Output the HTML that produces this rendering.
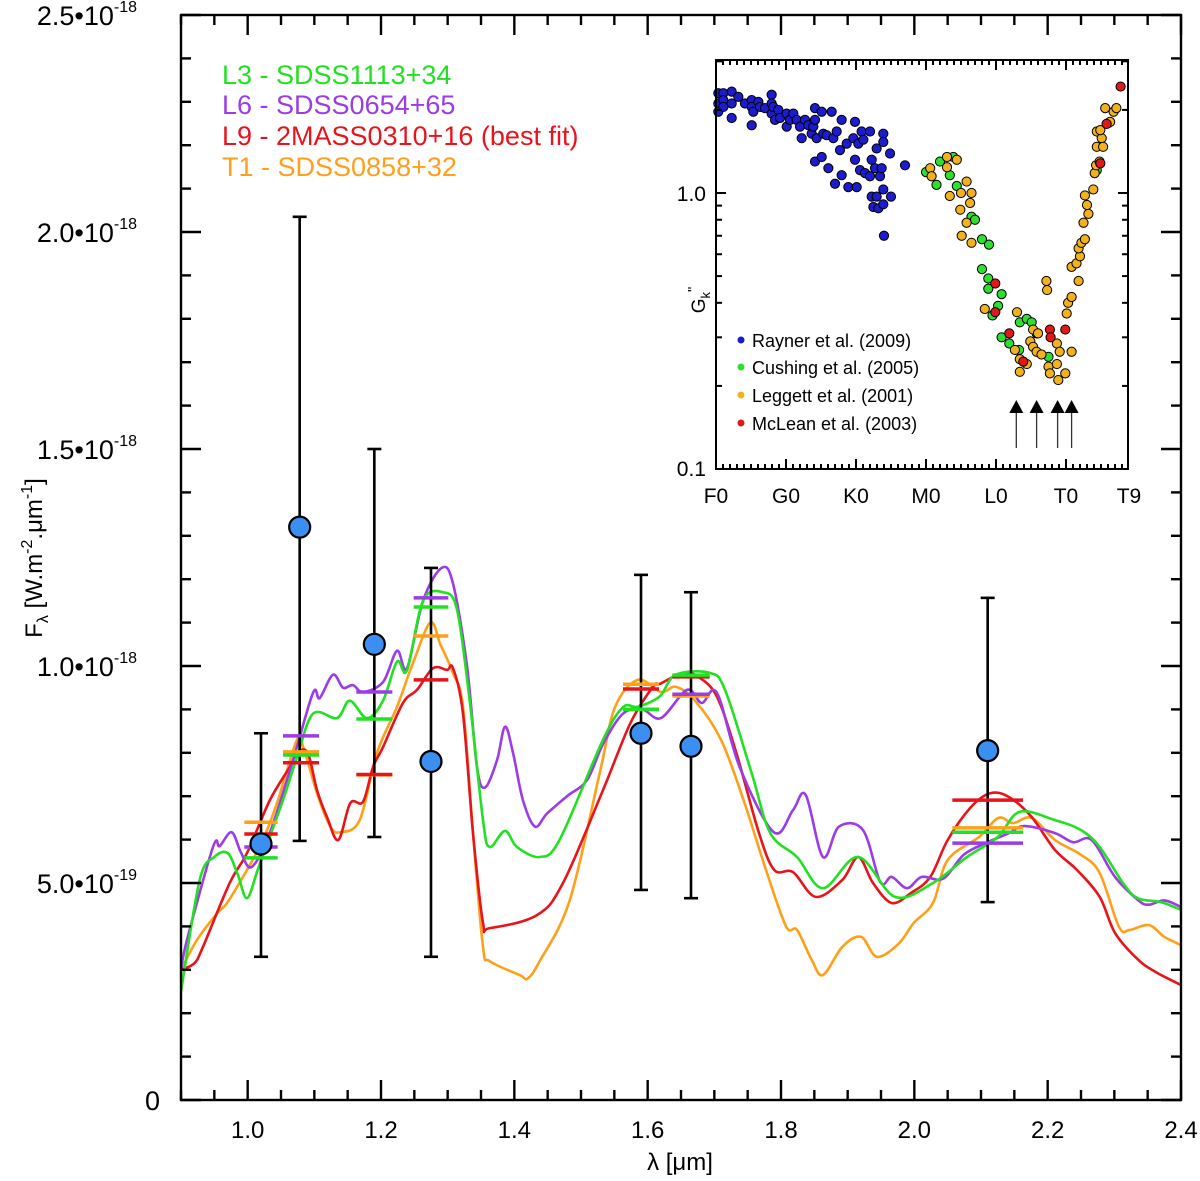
<!DOCTYPE html>
<html><head><meta charset="utf-8"><style>
html,body{margin:0;padding:0;background:#fff;}
svg{display:block;font-family:"Liberation Sans",Arial,sans-serif;}
</style></head><body>
<svg id="chart" width="1200" height="1181" viewBox="0 0 1200 1181" xmlns="http://www.w3.org/2000/svg">
<rect x="0" y="0" width="1200" height="1181" fill="#fff"/>
<g id="main"></g>
<g id="inset"></g>
</svg>
<script>
// ---- main chart data (flux in 1e-19 W m-2 um-1) ----
const xTicks = [1.0,1.2,1.4,1.6,1.8,2.0,2.2,2.4];
const xTickLabels = ["1.0","1.2","1.4","1.6","1.8","2.0","2.2","2.4"];
const yMajor = [0,5,10,15,20,25];
const yMajorLabels = ["0","5.0","1.0","1.5","2.0","2.5"];
const yExp = [null,"-19","-18","-18","-18","-18"];

const greenCurve = [[0.9,2.5],[0.928,5.07],[0.95,5.6],[0.97,5.69],[0.985,5.2],[0.999,4.65],[1.015,5.3],[1.033,6.06],[1.055,7.0],[1.074,7.9],[1.098,8.9],[1.134,8.8],[1.153,9.2],[1.179,8.8],[1.203,9.2],[1.224,10.1],[1.239,9.9],[1.263,11.5],[1.293,11.7],[1.314,11.3],[1.333,9.2],[1.353,6.45],[1.363,5.83],[1.386,6.2],[1.404,5.83],[1.438,5.6],[1.468,6.0],[1.533,8.3],[1.563,9.05],[1.585,9.06],[1.618,9.3],[1.642,9.8],[1.693,9.84],[1.716,9.45],[1.756,7.53],[1.784,6.15],[1.824,5.6],[1.863,4.88],[1.916,5.6],[1.971,4.68],[2.028,5.0],[2.079,5.6],[2.125,6.06],[2.158,6.64],[2.211,6.45],[2.25,6.22],[2.278,5.83],[2.313,5.0],[2.335,4.65],[2.37,4.56],[2.4,4.38]];
const purpleCurve = [[0.9,3.0],[0.909,3.69],[0.948,5.83],[0.958,5.85],[0.976,6.17],[0.99,5.7],[1.006,5.37],[1.033,6.15],[1.068,7.83],[1.098,9.38],[1.108,9.26],[1.128,9.8],[1.143,9.5],[1.158,9.56],[1.173,9.4],[1.203,9.63],[1.224,10.35],[1.239,9.95],[1.263,11.5],[1.291,12.26],[1.308,11.9],[1.329,10.0],[1.344,7.67],[1.356,7.2],[1.374,7.83],[1.386,8.6],[1.398,8.0],[1.413,6.9],[1.431,6.3],[1.449,6.6],[1.479,7.0],[1.509,7.37],[1.533,8.2],[1.563,8.9],[1.592,9.0],[1.62,8.8],[1.659,9.45],[1.681,9.15],[1.704,9.38],[1.738,7.67],[1.789,6.17],[1.818,6.68],[1.837,7.03],[1.863,5.6],[1.887,6.3],[1.923,6.22],[1.949,5.02],[1.966,5.14],[1.989,4.88],[2.011,5.14],[2.043,5.1],[2.074,5.65],[2.107,5.92],[2.142,6.15],[2.165,6.31],[2.211,6.15],[2.238,5.94],[2.266,5.99],[2.301,5.14],[2.336,4.6],[2.352,4.5],[2.375,4.6],[2.4,4.45]];
const redCurve = [[0.9,3.0],[0.92,3.15],[0.933,3.53],[0.973,5.0],[0.999,5.69],[1.033,6.9],[1.063,7.67],[1.074,8.0],[1.09,8.0],[1.104,7.14],[1.119,6.52],[1.136,5.99],[1.154,6.84],[1.173,6.87],[1.188,7.67],[1.203,8.13],[1.233,9.15],[1.254,9.45],[1.278,9.95],[1.299,9.91],[1.308,9.95],[1.323,8.9],[1.338,6.15],[1.353,4.08],[1.363,3.96],[1.434,4.26],[1.473,5.0],[1.533,7.14],[1.574,8.68],[1.608,9.52],[1.62,9.6],[1.653,9.84],[1.676,9.75],[1.704,9.29],[1.733,8.0],[1.767,6.15],[1.79,5.3],[1.818,5.25],[1.852,4.68],[1.892,5.07],[1.916,5.6],[1.938,5.0],[1.966,4.54],[1.995,4.77],[2.024,5.14],[2.05,5.99],[2.085,6.75],[2.114,7.07],[2.142,6.98],[2.176,6.52],[2.211,5.76],[2.244,5.3],[2.278,4.68],[2.301,3.85],[2.336,3.23],[2.364,2.93],[2.4,2.65]];
const orangeCurve = [[0.9,3.0],[0.924,3.69],[0.954,4.3],[0.969,4.54],[0.999,5.3],[1.023,6.0],[1.044,6.84],[1.074,8.3],[1.084,8.1],[1.104,7.07],[1.124,6.3],[1.139,6.17],[1.168,6.45],[1.194,8.0],[1.224,9.06],[1.248,10.07],[1.274,11.0],[1.289,10.5],[1.308,9.84],[1.323,9.06],[1.338,6.15],[1.353,3.53],[1.363,3.2],[1.408,2.88],[1.42,2.8],[1.438,3.2],[1.483,4.6],[1.528,7.53],[1.551,9.05],[1.585,9.68],[1.62,9.4],[1.642,9.52],[1.671,9.2],[1.71,8.3],[1.744,6.9],[1.779,5.23],[1.808,3.99],[1.824,3.92],[1.846,3.23],[1.863,2.88],[1.892,3.53],[1.92,3.76],[1.944,3.3],[1.977,3.61],[1.999,4.08],[2.028,4.54],[2.05,5.53],[2.097,6.06],[2.126,6.5],[2.148,6.38],[2.176,6.5],[2.211,5.99],[2.25,5.65],[2.278,5.23],[2.307,3.99],[2.323,3.92],[2.352,4.03],[2.375,3.76],[2.4,3.57]];

const obsLam = [1.02,1.078,1.19,1.275,1.59,1.665,2.11];
const obsFlux = [5.9,13.2,10.5,7.8,8.45,8.15,8.05];
const obsHigh = [8.45,20.35,15.0,12.26,12.1,11.7,11.57];
const obsLow = [3.3,5.97,6.06,3.3,4.84,4.65,4.56];

const bandLam = [1.02,1.08,1.19,1.275,1.59,1.665,2.11];
const bandHalf = [0.025,0.027,0.027,0.026,0.027,0.028,0.053];
const synGreen = [5.58,7.95,8.78,11.36,9.0,9.79,6.17];
const synPurple = [5.83,8.39,9.4,11.57,9.0,9.35,5.92];
const synRed = [6.13,7.77,7.5,9.68,9.47,9.75,6.91];
const synOrange = [6.4,8.02,7.49,10.69,9.58,9.31,6.27];

// ---- inset data: [spectral type index (F0=0 ... T9=59), G_k''] ----
const insetTickIdx = [0,10,20,30,40,50,59];
const insetTickLabels = ["F0","G0","K0","M0","L0","T0","T9"];
const raynerPts = [[0.33,2.30],[0.33,2.11],[0.33,1.97],[1.05,2.30],[1.05,2.17],[1.05,2.05],[2.24,2.33],[2.24,2.11],[2.24,1.87],[3.19,2.23],[4.14,2.11],[5.1,2.17],[5.1,2.05],[5.1,1.76],[5.33,1.97],[6.05,2.14],[6.29,2.05],[7.0,2.03],[7.95,2.27],[7.95,2.11],[7.95,1.94],[8.19,2.05],[8.43,1.84],[8.9,2.0],[9.14,1.87],[10.1,1.94],[10.1,1.74],[10.57,1.84],[11.05,1.94],[11.52,1.84],[12.0,1.74],[12.24,1.58],[12.71,1.84],[13.19,1.76],[13.67,1.64],[13.9,1.74],[14.14,2.03],[14.14,1.84],[14.14,1.30],[14.38,1.58],[15.1,1.97],[15.1,1.35],[15.33,1.64],[15.8,1.62],[16.05,1.23],[16.52,1.97],[16.76,1.58],[17.0,1.08],[17.24,1.67],[17.71,1.43],[17.95,1.84],[17.95,1.16],[18.67,1.51],[18.9,1.05],[19.62,1.58],[19.86,1.81],[19.86,1.32],[20.1,1.05],[20.33,1.51],[20.57,1.21],[20.8,1.67],[21.05,1.56],[21.29,1.18],[22.0,1.67],[22.0,1.15],[22.24,1.32],[22.24,0.97],[22.48,0.89],[22.71,1.23],[22.95,1.45],[22.95,0.97],[23.19,0.88],[23.43,1.15],[23.67,1.23],[23.9,1.64],[23.9,1.53],[23.9,1.03],[23.9,0.91],[24.0,0.70],[24.86,1.39],[25.0,0.97],[27.0,1.26]];
const cushingPts = [[30.0,1.19],[32.0,1.30],[31.5,1.07],[33.9,1.35],[33.4,1.16],[34.4,1.06],[36.5,0.82],[37.0,0.80],[38.0,0.68],[39.0,0.65],[38.0,0.53],[38.9,0.49],[38.9,0.45],[40.3,0.39],[40.8,0.43],[39.5,0.36],[40.8,0.30],[41.9,0.285],[43.4,0.34],[44.4,0.35],[45.1,0.34],[45.8,0.31],[47.5,0.255],[54.4,1.21],[43.3,0.27]];
const leggettPts = [[30.6,1.23],[30.8,1.15],[33.0,1.35],[33.0,1.24],[33.4,0.975],[34.4,1.32],[35.8,1.10],[35.0,1.0],[36.5,1.0],[36.3,0.92],[34.9,0.87],[35.8,0.78],[35.1,0.70],[36.5,0.66],[38.4,0.38],[43.0,0.37],[42.7,0.27],[43.4,0.25],[44.4,0.24],[43.4,0.225],[44.9,0.29],[45.3,0.32],[46.0,0.31],[45.3,0.277],[45.8,0.266],[46.5,0.26],[47.2,0.48],[47.3,0.445],[47.5,0.235],[47.7,0.222],[48.7,0.285],[48.9,0.21],[49.1,0.266],[48.7,0.24],[49.9,0.222],[50.8,0.266],[50.1,0.366],[50.3,0.40],[50.8,0.42],[50.8,0.54],[51.5,0.556],[51.8,0.48],[52.0,0.59],[51.8,0.63],[52.2,0.66],[52.7,0.68],[52.5,0.78],[53.2,0.84],[53.0,0.905],[52.7,0.98],[53.9,1.03],[54.1,1.18],[54.3,1.26],[54.8,1.30],[54.4,1.47],[54.4,1.67],[55.1,1.58],[55.3,1.47],[54.9,1.69],[56.0,1.79],[55.6,2.03],[56.3,1.81],[56.8,1.97],[57.2,2.03]];
const mcleanPts = [[39.9,0.47],[39.9,0.37],[41.9,0.31],[43.9,0.245],[47.7,0.32],[47.8,0.30],[49.9,0.32],[54.9,1.28],[55.8,1.78],[57.8,2.43]];
const arrowIdx = [42.9,45.8,48.8,50.8];

const NS="http://www.w3.org/2000/svg";
function mk(tag,attrs,parent){const e=document.createElementNS(NS,tag);for(const k in attrs)e.setAttribute(k,attrs[k]);parent.appendChild(e);return e;}

// ---- main axes ----
const L=181,R=1181,T=15,B=1100;
const xS=l=>L+(l-0.9)*(R-L)/1.5;
const yS=f=>B-f*(B-T)/25;
const main=document.getElementById('main');

function curvePath(pts){
  const p=pts.map(d=>[xS(d[0]),yS(d[1])]);
  let s='M'+p[0][0].toFixed(1)+','+p[0][1].toFixed(1);
  for(let i=0;i<p.length-1;i++){
    const p0=p[i-1]||p[i],p1=p[i],p2=p[i+1],p3=p[i+2]||p2;
    const c1=[p1[0]+(p2[0]-p0[0])/6,p1[1]+(p2[1]-p0[1])/6];
    const c2=[p2[0]-(p3[0]-p1[0])/6,p2[1]-(p3[1]-p1[1])/6];
    s+='C'+c1[0].toFixed(1)+','+c1[1].toFixed(1)+' '+c2[0].toFixed(1)+','+c2[1].toFixed(1)+' '+p2[0].toFixed(1)+','+p2[1].toFixed(1);
  }
  return s;
}
const clip=mk('clipPath',{id:'mclip'},main);mk('rect',{x:L,y:T,width:R-L,height:B-T},clip);

const series=[
 {c:'#ff9f1a',pts:orangeCurve,syn:synOrange,n:'orange'},
 {c:'#e8141c',pts:redCurve,syn:synRed,n:'red'},
 {c:'#9b3ce6',pts:purpleCurve,syn:synPurple,n:'purple'},
 {c:'#22e022',pts:greenCurve,syn:synGreen,n:'green'}
];
const curveG=mk('g',{'clip-path':'url(#mclip)'},main);


for(const s of series){
  const p=mk('path',{d:curvePath(s.pts),fill:'none',stroke:s.c,'stroke-width':2.6,'stroke-linejoin':'round'},curveG);
  
  
}
// error bars
for(let i=0;i<obsLam.length;i++){
  const x=xS(obsLam[i]);
  const g=mk('g',{stroke:'#000','stroke-width':2.6},main);
  
  
  mk('line',{x1:x,x2:x,y1:yS(obsHigh[i]),y2:yS(obsLow[i])},g);
  mk('line',{x1:x-7,x2:x+7,y1:yS(obsHigh[i]),y2:yS(obsHigh[i])},g);
  mk('line',{x1:x-7,x2:x+7,y1:yS(obsLow[i]),y2:yS(obsLow[i])},g);
}
// synthetic band fluxes
for(let i=0;i<bandLam.length;i++){
  for(const s of series){
    const l=mk('line',{x1:xS(bandLam[i]-bandHalf[i]),x2:xS(bandLam[i]+bandHalf[i]),y1:yS(s.syn[i]),y2:yS(s.syn[i]),stroke:s.c,'stroke-width':3.5},main);
    
    
  }
}
// observed points
for(let i=0;i<obsLam.length;i++){
  const c=mk('circle',{cx:xS(obsLam[i]),cy:yS(obsFlux[i]),r:10.5,fill:'#3a8ff0',stroke:'#000','stroke-width':2.2},main);
  
  
}
// frame + ticks
const ax=mk('g',{stroke:'#000','stroke-width':2.4,fill:'none'},main);


mk('rect',{x:L,y:T,width:R-L,height:B-T},ax);
for(let k=0;k<=30;k++){
  const l=0.9+k*0.05,x=xS(l),maj=(Math.round(l*100)%20===0);const len=maj?20:10;
  mk('line',{x1:x,x2:x,y1:B,y2:B-len},ax);mk('line',{x1:x,x2:x,y1:T,y2:T+len},ax);
}
for(let f=0;f<=25;f++){
  const y=yS(f),maj=f%5===0,len=maj?20:10;
  mk('line',{x1:L,x2:L+len,y1:y,y2:y},ax);mk('line',{x1:R,x2:R-len,y1:y,y2:y},ax);
}
xTicks.forEach((v,i)=>{
  const t=mk('text',{x:xS(v),y:1138,'font-size':24,'text-anchor':'middle',fill:'#000'},main);t.textContent=xTickLabels[i];
  
  
});
yMajor.forEach((v,i)=>{
  const t=mk('text',{x:yExp[i]?137:160,y:yS(v)+10,'font-size':27,'text-anchor':'end',fill:'#000'},main);
  if(yExp[i]){t.innerHTML=yMajorLabels[i]+'•10<tspan dy="-13" font-size="16">'+yExp[i]+'</tspan>';}
  else t.textContent=yMajorLabels[i];
  
  
});
</script>
<script>
// static labels
(function(){
const main=document.getElementById('main');
main.insertAdjacentHTML('beforeend',
'<text x="680" y="1170" font-size="24" text-anchor="middle">λ [μm]</text>'+
'<text transform="translate(42,558) rotate(-90)" font-size="24" text-anchor="middle">F<tspan font-size="16" dy="6">λ</tspan><tspan dy="-6"> [W.m</tspan><tspan font-size="16" dy="-10">-2</tspan><tspan dy="10">.μm</tspan><tspan font-size="16" dy="-10">-1</tspan><tspan dy="10">]</tspan></text>'+
'<g font-size="27">'+
'<text x="222" y="84" fill="#22e022">L3 - SDSS1113+34</text>'+
'<text x="222" y="114" fill="#9b3ce6">L6 - SDSS0654+65</text>'+
'<text x="222" y="145" fill="#e8141c">L9 - 2MASS0310+16 (best fit)</text>'+
'<text x="222" y="176" fill="#ff9f1a">T1 - SDSS0858+32</text></g>');
})();
</script>
<script>
// ---- inset ----
(function(){
const g=document.getElementById('inset');
const IL=716,IR=1128,IT=60,IB=469;
const ix=i=>IL+i*7;
const iy=v=>IB-(Math.log10(v)+1)*276;
mk('rect',{x:IL,y:IT,width:IR-IL,height:IB-IT,fill:'#fff',stroke:'none'},g);
const groups=[[raynerPts,'#1c1ccc','rayner'],[cushingPts,'#2ee02e','cushing'],[leggettPts,'#f2b21e','leggett'],[mcleanPts,'#e01818','mclean']];
for(const [pts,c,n] of groups){
  for(const p of pts){
    const d=mk('circle',{cx:ix(p[0]),cy:iy(p[1]),r:4.6,fill:c,stroke:'#000','stroke-width':1},g);
    
    
  }
}
for(const a of arrowIdx){
  const x=ix(a);
  const ar=mk('g',{},g);
  
  
  mk('line',{x1:x,x2:x,y1:448,y2:412,stroke:'#333','stroke-width':1.3},ar);
  mk('polygon',{points:(x-7)+',413 '+(x+7)+',413 '+x+',400',fill:'#000'},ar);
}
const ax=mk('g',{stroke:'#000','stroke-width':2,fill:'none'},g);


mk('rect',{x:IL,y:IT,width:IR-IL,height:IB-IT},ax);
for(let i=0;i<=58;i++){const x=ix(i),len=(i%10===0)?10:5;
  mk('line',{x1:x,x2:x,y1:IB,y2:IB-len},ax);mk('line',{x1:x,x2:x,y1:IT,y2:IT+len},ax);}
const yt=[0.2,0.3,0.4,0.5,0.6,0.7,0.8,0.9,1,2,3];
for(const v of yt){const y=iy(v),len=(v===1)?10:6;
  mk('line',{x1:IL,x2:IL+len,y1:y,y2:y},ax);mk('line',{x1:IR,x2:IR-len,y1:y,y2:y},ax);}
insetTickIdx.forEach((v,i)=>{
  const t=mk('text',{x:ix(v),y:503,'font-size':21,'text-anchor':'middle',fill:'#000'},g);t.textContent=insetTickLabels[i];
  
  
});
g.insertAdjacentHTML('beforeend',
'<text x="706" y="201" font-size="21" text-anchor="end">1.0</text>'+
'<text x="706" y="476" font-size="21" text-anchor="end">0.1</text>'+
'<text transform="translate(705,300) rotate(-90)" font-size="19" text-anchor="middle">G<tspan font-size="13" dy="5">k</tspan><tspan dy="-12" font-size="15">"</tspan></text>'+
'<g font-size="18">'+
'<circle cx="741" cy="340" r="3.5" fill="#1c1ccc"/><text x="752" y="347">Rayner et al. (2009)</text>'+
'<circle cx="741" cy="367" r="3.5" fill="#2ee02e"/><text x="752" y="374">Cushing et al. (2005)</text>'+
'<circle cx="741" cy="395" r="3.5" fill="#f2b21e"/><text x="752" y="402">Leggett et al. (2001)</text>'+
'<circle cx="741" cy="423" r="3.5" fill="#e01818"/><text x="752" y="430">McLean et al. (2003)</text></g>');
})();
</script>
</body></html>
